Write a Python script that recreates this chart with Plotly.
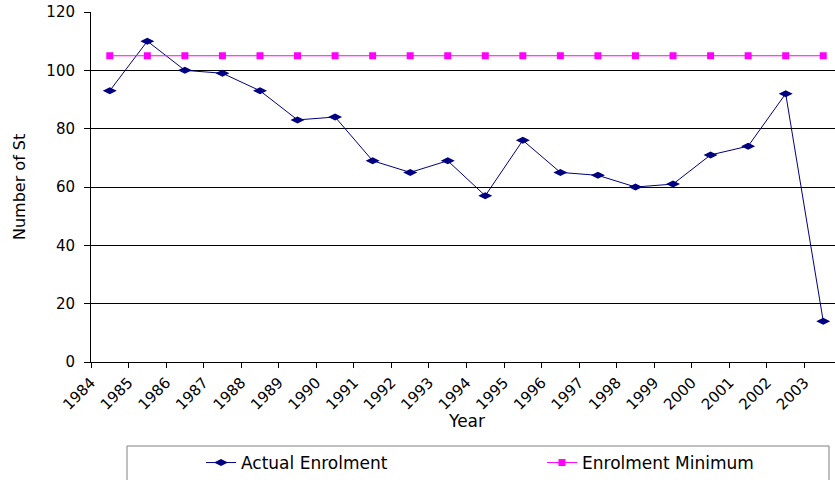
import plotly.graph_objects as go

years = [str(y) for y in range(1984, 2004)]
actual = [93, 110, 100, 99, 93, 83, 84, 69, 65, 69, 57, 76, 65, 64, 60, 61, 71, 74, 92, 14]
minimum = [105] * 20

FONT = "DejaVu Sans"
OFF = 0  # page body margin removed via post_script
W, H = 835, 480
L, R, T = 91 - OFF, 0, 12 - OFF
B = H - (362 - OFF)
CAT = 37.55  # pixels per category
pw = W - L - R
ph = H - T - B

def px_x(x):
    return (x - OFF - L) / pw

def px_y(y):
    return (H - B - (y - OFF)) / ph

xpos = [i + 0.5 for i in range(len(years))]

fig = go.Figure()
fig.add_trace(go.Scatter(
    x=xpos, y=actual, name="Actual Enrolment", mode="lines+markers",
    line=dict(color="#000080", width=1),
    marker=dict(symbol="diamond-wide", size=10, color="#000080"),
    cliponaxis=False, legend="legend",
))
fig.add_trace(go.Scatter(
    x=xpos, y=minimum, name="Enrolment Minimum", mode="lines+markers",
    line=dict(color="#FF00FF", width=1),
    marker=dict(symbol="square", size=7, color="#FF00FF"),
    cliponaxis=False, legend="legend2",
))

leg_common = dict(
    orientation="h", xanchor="left", yanchor="middle",
    font=dict(family=FONT, size=17, color="black"),
    bgcolor="rgba(0,0,0,0)", borderwidth=0,
)

fig.update_layout(
    width=W, height=H,
    margin=dict(l=L, r=R, t=T, b=B, pad=0, autoexpand=False),
    paper_bgcolor="white", plot_bgcolor="white",
    font=dict(family=FONT, color="black"),
    showlegend=True,
    legend=dict(x=px_x(201), y=px_y(463), **leg_common),
    legend2=dict(x=px_x(542), y=px_y(463), **leg_common),
    xaxis=dict(
        range=[0, pw / CAT], tickmode="array",
        tickvals=list(range(len(years))), ticktext=years,
        tickangle=-45, ticks="outside", ticklen=5, tickcolor="black",
        showline=True, linecolor="black", linewidth=1,
        showgrid=False, zeroline=False, automargin=False,
        tickfont=dict(family=FONT, size=15, color="black"),
    ),
    yaxis=dict(
        range=[0, 120], dtick=20, ticks="outside", ticklen=6, tickcolor="black",
        showline=True, linecolor="black", linewidth=1,
        showgrid=True, gridcolor="black", gridwidth=1, zeroline=False,
        automargin=False, ticklabeloverflow="allow",
        tickfont=dict(family=FONT, size=15, color="black"),
        ticklabelstandoff=6,
    ),
    annotations=[
        dict(text="Year", xref="paper", yref="paper", x=px_x(466), y=px_y(421),
             xanchor="center", yanchor="middle", showarrow=False,
             font=dict(family=FONT, size=17, color="black")),
        dict(text="Number of St", xref="paper", yref="paper", x=px_x(19), y=px_y(187),
             xanchor="center", yanchor="middle", showarrow=False, textangle=-90,
             font=dict(family=FONT, size=16, color="black")),
    ],
    shapes=[
        dict(type="rect", xref="paper", yref="paper",
             x0=px_x(127), x1=px_x(829), y0=px_y(446), y1=px_y(490),
             line=dict(color="#808080", width=1), fillcolor="rgba(0,0,0,0)", layer="above"),
    ],
)

fig.write_html("out.html", config={"displayModeBar": False},
               post_script="document.body.style.margin='0px';")
